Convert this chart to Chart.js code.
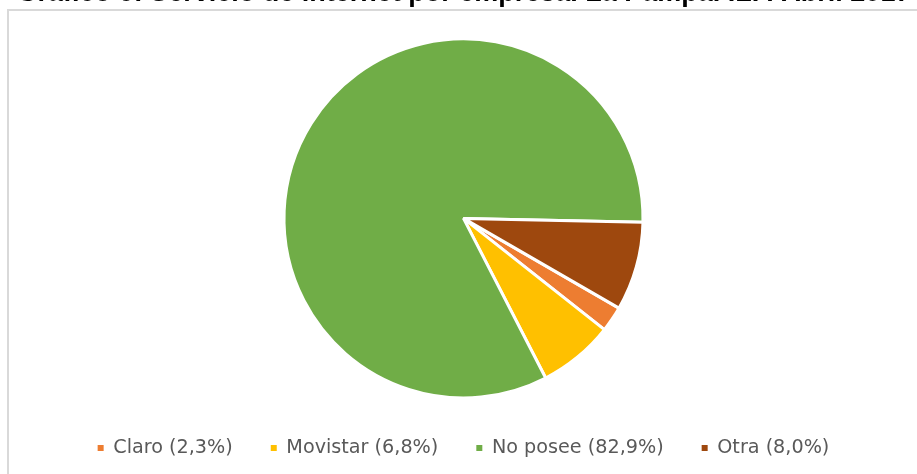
<!DOCTYPE html>
<html>
<head>
<meta charset="utf-8">
<script src="https://cdn.jsdelivr.net/npm/chart.js@4/dist/chart.umd.min.js"></script>
<style>
  html, body { margin: 0; padding: 0; background: #fff; overflow: hidden; }
  body { width: 917px; height: 474px; position: relative; }
  .frame { position: absolute; left: 7px; top: 9px; width: 930px; height: 490px; border: 2px solid #d9d9d9; box-sizing: border-box; }
  .wrap { position: absolute; left: 0; top: -23px; width: 917px; height: 497px; }
</style>
</head>
<body>
<div class="frame"></div>
<div class="wrap"><canvas id="pieChart"></canvas></div>
<script>
// ===== DONNÉES =====
const titulo = 'Gráfico 6: Servicio de internet por empresa. La Pampa. ILP. Abril 2017';
const empresas = ['Claro', 'Movistar', 'No posee', 'Otra'];
const porcentajes = [2.3, 6.8, 82.9, 8.0];
const colores = ['#ed7d31', '#ffc000', '#70ad47', '#9e480e'];

const etiquetas = empresas.map((e, i) => e + ' (' + porcentajes[i].toFixed(1).replace('.', ',') + '%)');

// ===== CHART =====
const ctx = document.getElementById('pieChart').getContext('2d');
const defaultLabels = Chart.overrides.pie.plugins.legend.labels.generateLabels;

new Chart(ctx, {
  type: 'pie',
  data: {
    labels: etiquetas,
    datasets: [{
      data: porcentajes,
      backgroundColor: colores,
      borderColor: '#ffffff',
      borderWidth: 3
    }]
  },
  options: {
    responsive: true,
    maintainAspectRatio: false,
    animation: false,
    rotation: 120,
    radius: 179.5,
    layout: { padding: { left: 10, right: 0, top: 0, bottom: 6.5 } },
    plugins: {
      title: {
        display: true,
        text: titulo,
        color: '#000000',
        font: { family: 'Liberation Sans', size: 27, weight: 'bold' },
        padding: { top: 0, bottom: 27.1 }
      },
      legend: {
        position: 'bottom',
        labels: {
          color: '#595959',
          font: { family: 'DejaVu Sans', size: 19.2 },
          boxWidth: 6,
          boxHeight: 6,
          padding: 38,
          generateLabels: chart => defaultLabels(chart).map(l => Object.assign(l, { lineWidth: 0, strokeStyle: 'rgba(0,0,0,0)' }))
        }
      },
      tooltip: { enabled: false }
    }
  }
});
</script>
</body>
</html>
